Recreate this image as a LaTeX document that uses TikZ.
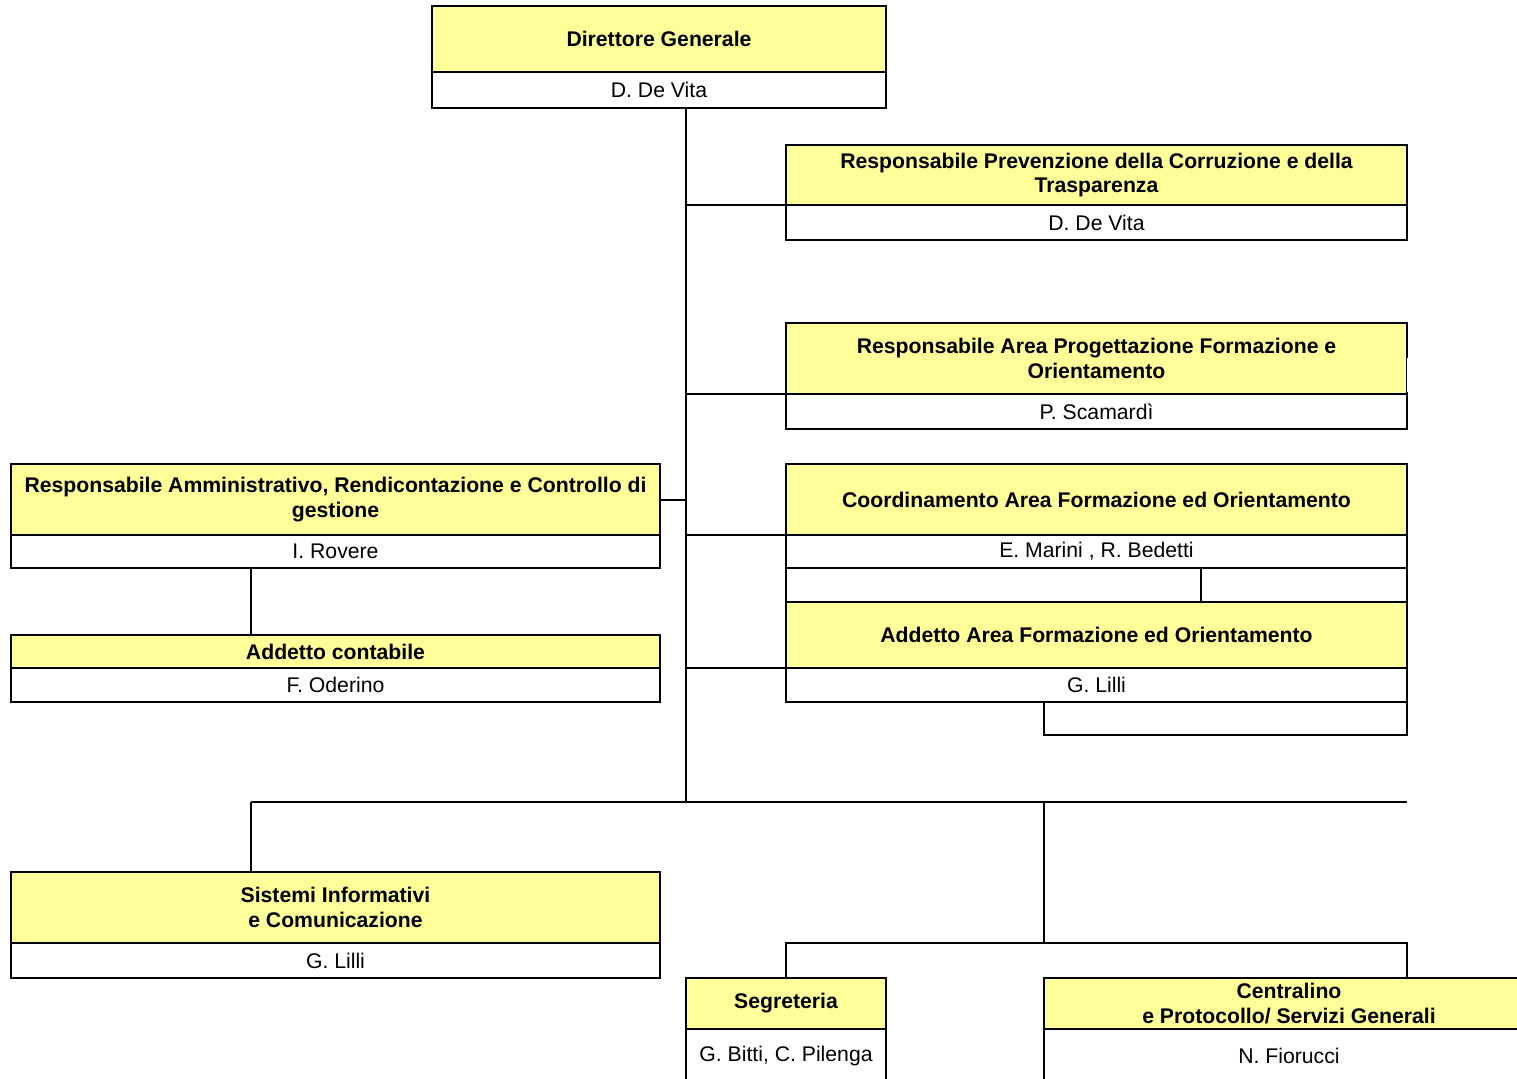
\documentclass[tikz,border=0pt]{standalone}
\usepackage{fontspec}
\setmainfont{Liberation Sans}
\usetikzlibrary{calc}
\definecolor{yel}{HTML}{FFFF99}
\begin{document}
\begin{tikzpicture}[x=0.5pt,y=-0.5pt,
  box/.style={draw, line width=1pt, inner sep=0pt, outer sep=0pt, anchor=north west, align=center,
    font=\fontsize{10.6}{12.4}\selectfont},
  ttl/.style={box, fill=yel, font=\fontsize{10.6}{12.4}\selectfont\bfseries},
  nm/.style={box, fill=white},
  conn/.style={line width=1pt}]
\useasboundingbox (0,0) rectangle (1517,1078);

% Direttore Generale
\node[ttl, minimum width=227pt, minimum height=33pt] (dgT) at (432,6) {Direttore Generale};
\node[nm, minimum width=227pt, minimum height=18pt] (dgN) at (432,72) {D. De Vita};

% RPCT
\node[ttl, minimum width=310.5pt, minimum height=30pt] (rpctT) at (786,145) {Responsabile Prevenzione della Corruzione e della\\Trasparenza};
\node[nm, minimum width=310.5pt, minimum height=17.5pt] (rpctN) at (786,205) {D. De Vita};

% Resp Area Progettazione
\node[ttl, minimum width=310.5pt, minimum height=35.5pt] (rapfoT) at (786,323) {Responsabile Area Progettazione Formazione e\\Orientamento};
\node[nm, minimum width=310.5pt, minimum height=17.5pt] (rapfoN) at (786,394) {P. Scamard\`{\i}};
\draw[white, line width=1.3pt] ($(rapfoT.north east)+(1,35)$) -- ($(rapfoT.north east)+(1,69)$);

% Coordinamento
\node[ttl, minimum width=310.5pt, minimum height=35.5pt] (coordT) at (786,464) {Coordinamento Area Formazione ed Orientamento};
\node[nm, minimum width=310.5pt, minimum height=16.5pt] (coordN) at (786,535) {E. Marini , R. Bedetti};
\node[nm, minimum width=310.5pt, minimum height=17pt] (coordX) at (786,568) {};

% Addetto Area
\node[ttl, minimum width=310.5pt, minimum height=33pt] (addAT) at (786,602) {Addetto Area Formazione ed Orientamento};
\node[nm, minimum width=310.5pt, minimum height=17pt] (addAN) at (786,668) {G. Lilli};
\node[nm, minimum width=181.5pt, minimum height=16.5pt] (addAX) at (1044,702) {};
\draw[conn] ($(coordX.north west)!0.668!(coordX.north east)$) -- ($(addAT.north west)!0.668!(addAT.north east)$);

% Left column
\node[ttl, minimum width=324.5pt, minimum height=35.5pt] (ammT) at (11,464) {Responsabile Amministrativo, Rendicontazione e Controllo di\\gestione};
\node[nm, minimum width=324.5pt, minimum height=16.5pt] (ammN) at (11,535) {I. Rovere};
\node[ttl, minimum width=324.5pt, minimum height=16.5pt] (contT) at (11,635) {Addetto contabile};
\node[nm, minimum width=324.5pt, minimum height=17pt] (contN) at (11,668) {F. Oderino};
\draw[conn] ($(ammN.south west)!0.37!(ammN.south east)$) -- ($(contT.north west)!0.37!(contT.north east)$);

\node[ttl, minimum width=324.5pt, minimum height=35.5pt] (sisT) at (11,872) {Sistemi Informativi\\e Comunicazione};
\node[nm, minimum width=324.5pt, minimum height=17.5pt] (sisN) at (11,943) {G. Lilli};

% Bottom
\node[ttl, minimum width=100pt, minimum height=25.5pt] (segT) at (686,978) {Segreteria};
\node[nm, minimum width=100pt, minimum height=27pt] (segN) at (686,1029) {G. Bitti, C. Pilenga};
\node[ttl, minimum width=245pt, minimum height=25.5pt] (cenT) at (1044,978) {Centralino\\e Protocollo/ Servizi Generali};
\node[nm, minimum width=245pt, minimum height=27pt] (cenN) at (1044,1029) {N. Fiorucci};

% Trunk and connectors
\coordinate (trunkTop) at (686,108);
\coordinate (trunkBot) at (686,802);
\coordinate (busL) at (251,802);
\coordinate (busM) at (1044,802);
\coordinate (busR) at (1407,802);
\coordinate (subM) at (1044,943);
\coordinate (subR) at (1407,943);
\draw[conn] (trunkTop) -- (trunkBot);
\draw[conn] (rpctN.north west) -- (rpctN.north west -| trunkTop);
\draw[conn] (rapfoN.north west) -- (rapfoN.north west -| trunkTop);
\draw[conn] (ammT.east) -- (ammT.east -| trunkTop);
\draw[conn] (coordN.north west) -- (coordN.north west -| trunkTop);
\draw[conn] (addAN.north west) -- (addAN.north west -| trunkTop);
\draw[conn] (busL) -- (busR);
\draw[conn] (busL) -- (busL |- sisT.north);
\draw[conn] (busM) -- (subM);
\draw[conn] (segT.north) |- (subR) -- (subR |- cenT.north);
\end{tikzpicture}
\end{document}
